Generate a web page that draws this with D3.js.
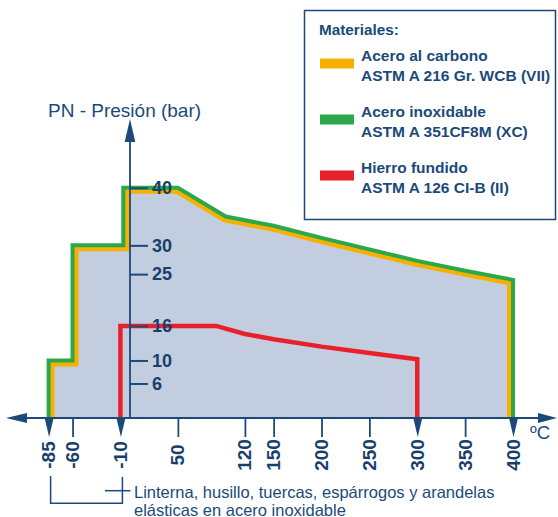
<!DOCTYPE html>
<html>
<head>
<meta charset="utf-8">
<script src="https://cdn.jsdelivr.net/npm/d3@7/dist/d3.min.js"></script>
<style>
  html, body { margin: 0; padding: 0; background: #ffffff; }
  svg { display: block; font-family: "Liberation Sans", Arial, Helvetica, sans-serif; }
</style>
</head>
<body>
<script>
// ---------- DATA ----------
const tempTicks = [-85, -60, -10, 50, 120, 150, 200, 250, 300, 350, 400];
const arrowTemps = [-85, -10, 300, 400];
const pressureTicks = [40, 30, 25, 16, 10, 6];

// Carbon steel (orange) and stainless steel (green) share the same rating outline
const steelTemps     = [-85, -85, -60, -60, -7, -7, 50, 100, 150, 200, 250, 300, 350, 400, 400];
const carbonPressures    = [0, 10, 10, 30, 30, 40, 40, 35, 33.4, 31.3, 29.3, 27.3, 25.6, 24, 0];
const stainlessPressures = [0, 10, 10, 30, 30, 40, 40, 35, 33.4, 31.3, 29.3, 27.3, 25.6, 24, 0];

// Cast iron (red)
const ironTemps     = [-10, -10, 90, 120, 150, 200, 250, 300, 300];
const ironPressures = [0, 16, 16, 14.6, 13.7, 12.4, 11.3, 10.2, 0];

const legendTitle = "Materiales:";
const legendNames = ["Acero al carbono", "Acero inoxidable", "Hierro fundido"];
const legendSpecs = ["ASTM A 216 Gr. WCB (VII)", "ASTM A 351CF8M (XC)", "ASTM A 126 CI-B (II)"];
const legendColors = ["#f8b000", "#2aa84a", "#e8202a"];

const yTitle = "PN - Presión (bar)";
const xUnit = "ºC";
const bracketTemps = [-85, -10];
const noteLines = ["Linterna, husillo, tuercas, espárrogos y arandelas", "elásticas en acero inoxidable"];

// ---------- STYLE ----------
const navy = "#1b4a7a";
const labelNavy = "#173f6c";
const fillColor = "#c3cde0";

const W = 558, H = 517;
const svg = d3.select("body").append("svg").attr("width", W).attr("height", H);

const x = d3.scaleLinear().domain([0, 400]).range([130, 513]);
const y = d3.scaleLinear().domain([0, 40]).range([418, 187.8]);
const axisY = y(0);

const steel = steelTemps.map((t, i) => [t, carbonPressures[i]]);
const steel2 = steelTemps.map((t, i) => [t, stainlessPressures[i]]);
const iron = ironTemps.map((t, i) => [t, ironPressures[i]]);

const line = d3.line().x(d => x(d[0])).y(d => y(d[1]));

// clip for inner (orange) stroke
svg.append("defs").append("clipPath").attr("id", "inner")
  .append("path").attr("d", line(steel) + "Z");

// fill
svg.append("path").attr("d", line(steel) + "Z").attr("fill", fillColor);

// orange (inside)
svg.append("path").attr("d", line(steel))
  .attr("fill", "none").attr("stroke", legendColors[0]).attr("stroke-width", 12)
  .attr("stroke-linejoin", "miter").attr("clip-path", "url(#inner)");

// green (on the outline)
svg.append("path").attr("d", line(steel2))
  .attr("fill", "none").attr("stroke", legendColors[1]).attr("stroke-width", 4)
  .attr("stroke-linejoin", "miter");

// red
svg.append("path").attr("d", line(iron))
  .attr("fill", "none").attr("stroke", legendColors[2]).attr("stroke-width", 4.5)
  .attr("stroke-linejoin", "miter");

// ---------- Y AXIS ----------
const gy = svg.append("g").attr("transform", `translate(${x(0)},0)`)
  .call(d3.axisRight(y).tickValues(pressureTicks).tickSize(18).tickPadding(4).tickFormat(d => String(d)));
gy.select(".domain").remove();
gy.selectAll(".tick line").attr("stroke", navy).attr("stroke-width", 2);
gy.selectAll(".tick text").attr("fill", labelNavy)
  .style("font-size", "18px").style("font-weight", "bold")
  .style("font-family", '"Liberation Sans", Arial, sans-serif');

svg.append("line").attr("x1", x(0)).attr("x2", x(0)).attr("y1", 138).attr("y2", axisY)
  .attr("stroke", navy).attr("stroke-width", 1.8);
svg.append("path").attr("d", `M${x(0)},119 L${x(0) - 5.3},142 L${x(0) + 5.3},142 Z`).attr("fill", navy);

svg.append("text").attr("x", 48).attr("y", 117).text(yTitle)
  .attr("fill", navy).style("font-size", "19px");

// ---------- X AXIS ----------
const gx = svg.append("g").attr("transform", `translate(0,${axisY})`)
  .call(d3.axisBottom(x).tickValues(tempTicks).tickSize(19).tickFormat(d => String(d)));
gx.select(".domain").remove();
gx.selectAll(".tick line").attr("stroke", navy).attr("stroke-width", 1.8)
  .attr("y2", d => arrowTemps.includes(d) ? 0 : 19);
gx.selectAll(".tick").filter(d => arrowTemps.includes(d))
  .append("path").attr("d", "M-4.5,0 L4.5,0 L0,19 Z").attr("fill", navy);
gx.selectAll(".tick text")
  .attr("x", 0).attr("y", 0).attr("dy", "0.32em")
  .attr("transform", "translate(0,37) rotate(-90)")
  .style("text-anchor", "middle")
  .attr("fill", labelNavy)
  .style("font-size", "19px").style("font-weight", "bold")
  .style("font-family", '"Liberation Sans", Arial, sans-serif');

svg.append("line").attr("x1", 22).attr("x2", 542).attr("y1", axisY).attr("y2", axisY)
  .attr("stroke", navy).attr("stroke-width", 2);
svg.append("path").attr("d", `M6,${axisY} L27,${axisY - 5} L27,${axisY + 5} Z`).attr("fill", navy);
svg.append("path").attr("d", `M557,${axisY} L538,${axisY - 5} L538,${axisY + 5} Z`).attr("fill", navy);

svg.append("text").attr("x", 530).attr("y", 438.5).text(xUnit)
  .attr("fill", navy).style("font-size", "18.5px");

// ---------- BRACKET NOTE ----------
const bx0 = x(bracketTemps[0]) + 2, bx1 = x(bracketTemps[1]) + 2;
svg.append("path")
  .attr("d", `M${bx0},476 L${bx0},503.3 L${bx1},503.3 L${bx1},477`)
  .attr("fill", "none").attr("stroke", navy).attr("stroke-width", 1.5);
svg.append("line").attr("x1", bx1 - 17.5).attr("x2", bx1 + 8).attr("y1", 490.7).attr("y2", 490.7)
  .attr("stroke", navy).attr("stroke-width", 1.5);
noteLines.forEach((t, i) => {
  svg.append("text").attr("x", 134).attr("y", 497.5 + i * 18).text(t)
    .attr("fill", navy).style("font-size", "16.5px");
});

// ---------- LEGEND ----------
svg.append("rect").attr("x", 304.5).attr("y", 10.5).attr("width", 251).attr("height", 209)
  .attr("fill", "none").attr("stroke", navy).attr("stroke-width", 1.5);
svg.append("text").attr("x", 319).attr("y", 35).text(legendTitle)
  .attr("fill", navy).style("font-size", "15.3px").style("font-weight", "bold");
legendNames.forEach((name, i) => {
  const gy0 = 61 + i * 56;
  svg.append("rect").attr("x", 320).attr("y", gy0 - 2.5).attr("width", 34).attr("height", 10)
    .attr("fill", legendColors[i]);
  svg.append("text").attr("x", 361).attr("y", gy0).text(name)
    .attr("fill", navy).style("font-size", "15.5px").style("font-weight", "bold");
  svg.append("text").attr("x", 361).attr("y", gy0 + 19.5).text(legendSpecs[i])
    .attr("fill", navy).style("font-size", "15.5px").style("font-weight", "bold");
});
</script>
</body>
</html>
